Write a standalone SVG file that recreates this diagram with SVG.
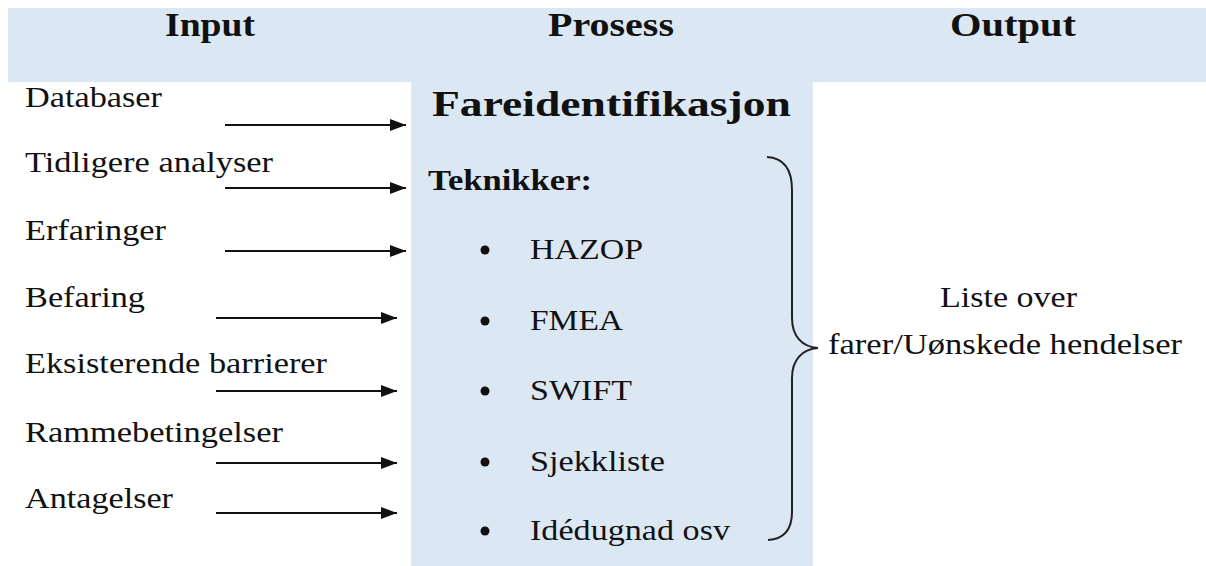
<svg xmlns="http://www.w3.org/2000/svg" width="1206" height="566" viewBox="0 0 1206 566">
  <style>
    .band { fill: #dce7f4; }
    .hdr { font-family: "Liberation Serif", "Times New Roman", serif; font-weight: bold; font-size: 33px; fill: #111; }
    .lbl { font-family: "Liberation Serif", "Times New Roman", serif; font-size: 30px; fill: #111; }
    .item { font-family: "Liberation Serif", "Times New Roman", serif; font-size: 29px; fill: #111; }
    .title { font-family: "Liberation Serif", "Times New Roman", serif; font-weight: bold; font-size: 35px; fill: #111; }
    .sub { font-family: "Liberation Serif", "Times New Roman", serif; font-weight: bold; font-size: 29px; fill: #111; }
    .arrow { stroke: #111; stroke-width: 2; fill: none; marker-end: url(#head); }
    .brace { stroke: #222; stroke-width: 2; fill: none; }
    .dot { fill: #111; }
  </style>
  <defs>
    <marker id="head" viewBox="0 0 16 12" refX="16" refY="6" markerWidth="16" markerHeight="12" orient="auto" markerUnits="userSpaceOnUse">
      <path d="M0,0 L16,6 L0,12 Z" fill="#111"/>
    </marker>
  </defs>

  <rect width="1206" height="566" fill="#ffffff"/>

  <!-- header band and column titles -->
  <g id="header">
    <rect class="band" x="8" y="8" width="1198" height="74"/>
    <text class="hdr" x="165" y="36" textLength="90" lengthAdjust="spacingAndGlyphs">Input</text>
    <text class="hdr" x="548" y="36" textLength="126" lengthAdjust="spacingAndGlyphs">Prosess</text>
    <text class="hdr" x="950" y="36" textLength="126" lengthAdjust="spacingAndGlyphs">Output</text>
  </g>

  <!-- process column -->
  <g id="process">
    <rect class="band" x="411" y="82" width="402" height="484"/>
    <text class="title" x="432" y="116" textLength="359" lengthAdjust="spacingAndGlyphs">Fareidentifikasjon</text>
    <text class="sub" x="428" y="190" textLength="164" lengthAdjust="spacingAndGlyphs">Teknikker:</text>
    <circle class="dot" cx="485" cy="250" r="4.5"/>
    <text class="item" x="530" y="259" textLength="113" lengthAdjust="spacingAndGlyphs">HAZOP</text>
    <circle class="dot" cx="485" cy="321" r="4.5"/>
    <text class="item" x="530" y="330" textLength="93" lengthAdjust="spacingAndGlyphs">FMEA</text>
    <circle class="dot" cx="485" cy="391" r="4.5"/>
    <text class="item" x="530" y="400" textLength="102" lengthAdjust="spacingAndGlyphs">SWIFT</text>
    <circle class="dot" cx="485" cy="462" r="4.5"/>
    <text class="item" x="530" y="471" textLength="135" lengthAdjust="spacingAndGlyphs">Sjekkliste</text>
    <circle class="dot" cx="485" cy="531" r="4.5"/>
    <text class="item" x="530" y="540" textLength="200" lengthAdjust="spacingAndGlyphs">Idédugnad osv</text>
  </g>

  <!-- input labels -->
  <g id="inputs">
    <text class="lbl" x="25" y="107" textLength="137" lengthAdjust="spacingAndGlyphs">Databaser</text>
    <text class="lbl" x="25" y="172" textLength="248" lengthAdjust="spacingAndGlyphs">Tidligere analyser</text>
    <text class="lbl" x="25" y="240" textLength="141" lengthAdjust="spacingAndGlyphs">Erfaringer</text>
    <text class="lbl" x="25" y="307" textLength="120" lengthAdjust="spacingAndGlyphs">Befaring</text>
    <text class="lbl" x="25" y="373" textLength="302" lengthAdjust="spacingAndGlyphs">Eksisterende barrierer</text>
    <text class="lbl" x="25" y="442" textLength="258" lengthAdjust="spacingAndGlyphs">Rammebetingelser</text>
    <text class="lbl" x="25" y="508" textLength="148" lengthAdjust="spacingAndGlyphs">Antagelser</text>
  </g>

  <!-- output -->
  <g id="output">
    <text class="item" x="940" y="307" textLength="137" lengthAdjust="spacingAndGlyphs">Liste over</text>
    <text class="item" x="828" y="354" textLength="354" lengthAdjust="spacingAndGlyphs">farer/Uønskede hendelser</text>
  </g>

  <!-- connectors: input arrows and the grouping brace -->
  <g id="connectors">
    <line class="arrow" x1="225" y1="125" x2="406" y2="125"/>
    <line class="arrow" x1="225" y1="188" x2="406" y2="188"/>
    <line class="arrow" x1="225" y1="251" x2="406" y2="251"/>
    <line class="arrow" x1="216" y1="318" x2="397" y2="318"/>
    <line class="arrow" x1="216" y1="391" x2="397" y2="391"/>
    <line class="arrow" x1="216" y1="463" x2="397" y2="463"/>
    <line class="arrow" x1="216" y1="513" x2="397" y2="513"/>
    <path class="brace" d="M767,157 C784,158 792,170 792,190 L792,318 C792,336 802,347 818,348 C802,349 792,360 792,378 L792,512 C792,530 784,539 768,540"/>
  </g>
</svg>
